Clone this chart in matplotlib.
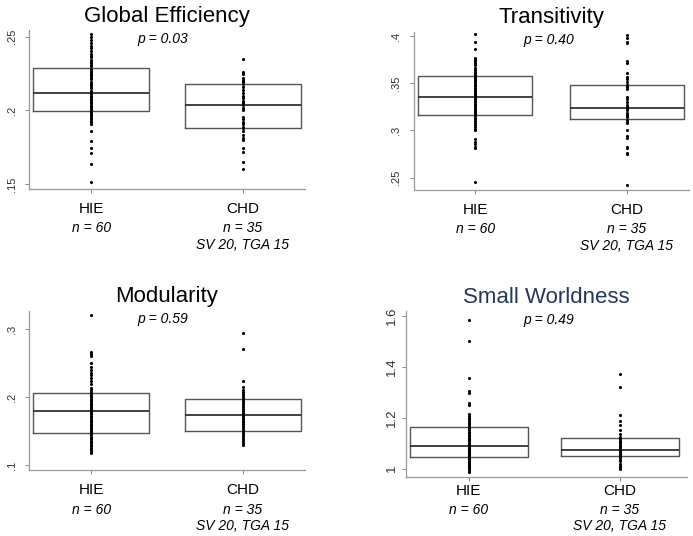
import matplotlib
matplotlib.use("Agg")
import matplotlib.pyplot as plt

plt.rcParams['font.family'] = ['Liberation Sans', 'DejaVu Sans']

groups = ["HIE", "CHD"]
group_n = ["n = 60", "n = 35"]
chd_detail = "SV 20, TGA 15"

titles = ["Global Efficiency", "Transitivity", "Modularity", "Small Worldness"]
p_values = ["p = 0.03", "p = 0.40", "p = 0.59", "p = 0.49"]

# box stats per panel: (q1, median, q3) for HIE and CHD
ge_box = [(0.1996, 0.2116, 0.229), (0.1883, 0.2037, 0.2177)]
tr_box = [(0.316, 0.3351, 0.3573), (0.3124, 0.3234, 0.3478)]
mod_box = [(0.1475, 0.1793, 0.2062), (0.1504, 0.1739, 0.1978)]
sw_box = [(1.0447, 1.090, 1.165), (1.0486, 1.072, 1.119)]

ge_hie = [0.252, 0.250, 0.248, 0.246, 0.244, 0.242, 0.240, 0.238, 0.237, 0.236,
          0.234, 0.233, 0.232, 0.231, 0.230, 0.228, 0.227, 0.226, 0.225, 0.224,
          0.223, 0.222, 0.221, 0.219, 0.218, 0.217, 0.216, 0.215, 0.213, 0.212,
          0.211, 0.210, 0.209, 0.208, 0.207, 0.206, 0.205, 0.204, 0.203, 0.2025,
          0.202, 0.201, 0.2005, 0.200, 0.1998, 0.199, 0.198, 0.197, 0.196, 0.195,
          0.194, 0.193, 0.192, 0.191, 0.186, 0.179, 0.1743, 0.1709, 0.1634, 0.1516]
ge_chd = [0.2347, 0.2263, 0.2255, 0.2245, 0.2222, 0.2206, 0.2200, 0.2191, 0.2177,
          0.2161, 0.2140, 0.2116, 0.2100, 0.2082, 0.2064, 0.2055, 0.2048, 0.2037,
          0.2018, 0.2000, 0.1957, 0.1940, 0.1923, 0.1915, 0.1906, 0.1889, 0.1878,
          0.1860, 0.1833, 0.1815, 0.1799, 0.1743, 0.1720, 0.1652, 0.1600]

tr_hie = [0.402, 0.394, 0.386, 0.377, 0.375, 0.373, 0.371, 0.369, 0.366, 0.364,
          0.362, 0.361, 0.360, 0.359, 0.358, 0.356, 0.355, 0.353, 0.352, 0.350,
          0.348, 0.347, 0.345, 0.343, 0.342, 0.340, 0.339, 0.338, 0.337, 0.336,
          0.334, 0.333, 0.331, 0.330, 0.328, 0.327, 0.325, 0.323, 0.322, 0.321,
          0.320, 0.319, 0.318, 0.317, 0.3165, 0.315, 0.313, 0.312, 0.310, 0.308,
          0.306, 0.304, 0.302, 0.300, 0.291, 0.288, 0.2855, 0.283, 0.281, 0.246]
tr_chd = [0.4011, 0.3982, 0.394, 0.3923, 0.3738, 0.371, 0.3605, 0.3569, 0.3541,
          0.3516, 0.3481, 0.3457, 0.3435, 0.3357, 0.3333, 0.3304, 0.3270, 0.3245,
          0.3230, 0.3216, 0.3188, 0.3163, 0.3150, 0.3139, 0.311, 0.3092, 0.3075,
          0.3004, 0.294, 0.2916, 0.2827, 0.281, 0.2764, 0.275, 0.2422]

mod_hie = [0.320, 0.266, 0.263, 0.260, 0.250, 0.244, 0.240, 0.236, 0.232, 0.228,
           0.224, 0.219, 0.214, 0.210, 0.207, 0.2055, 0.204, 0.203, 0.201, 0.200,
           0.198, 0.196, 0.194, 0.192, 0.190, 0.188, 0.186, 0.184, 0.182, 0.180,
           0.178, 0.176, 0.173, 0.170, 0.167, 0.165, 0.163, 0.161, 0.159, 0.157,
           0.155, 0.153, 0.151, 0.149, 0.148, 0.146, 0.144, 0.142, 0.140, 0.138,
           0.136, 0.134, 0.132, 0.130, 0.128, 0.126, 0.124, 0.122, 0.120, 0.118]
mod_chd = [0.294, 0.271, 0.224, 0.215, 0.211, 0.207, 0.204, 0.201, 0.199,
           0.197, 0.194, 0.191, 0.188, 0.186, 0.183, 0.180, 0.177, 0.175,
           0.173, 0.170, 0.168, 0.165, 0.163, 0.161, 0.158, 0.155, 0.152,
           0.150, 0.147, 0.144, 0.141, 0.138, 0.135, 0.132, 0.130]

sw_hie = [1.584, 1.502, 1.356, 1.306, 1.297, 1.258, 1.249, 1.213, 1.207, 1.200,
          1.194, 1.188, 1.180, 1.175, 1.168, 1.160, 1.155, 1.150, 1.145, 1.140,
          1.133, 1.127, 1.122, 1.118, 1.112, 1.107, 1.102, 1.098, 1.094, 1.091,
          1.088, 1.085, 1.082, 1.079, 1.076, 1.073, 1.070, 1.067, 1.064, 1.061,
          1.058, 1.055, 1.052, 1.049, 1.046, 1.043, 1.040, 1.037, 1.034, 1.031,
          1.028, 1.025, 1.022, 1.019, 1.016, 1.012, 1.008, 1.003, 0.995, 0.987]
sw_chd = [1.371, 1.319, 1.212, 1.186, 1.170, 1.153, 1.135, 1.125, 1.121,
          1.115, 1.110, 1.104, 1.099, 1.094, 1.088, 1.083, 1.078, 1.074,
          1.070, 1.067, 1.064, 1.061, 1.058, 1.056, 1.053, 1.051, 1.049,
          1.045, 1.040, 1.035, 1.028, 1.020, 1.012, 1.005, 1.000]

y_ticks = [[0.15, 0.2, 0.25], [0.25, 0.3, 0.35, 0.4], [0.1, 0.2, 0.3], [1.0, 1.2, 1.4, 1.6]]
y_ticklabels = [[".15", ".2", ".25"], [".25", ".3", ".35", ".4"], [".1", ".2", ".3"],
                ["1", "1.2", "1.4", "1.6"]]
y_lims = [(0.1466, 0.2545), (0.237, 0.4046), (0.0927, 0.3268), (0.966, 1.617)]

panels = [
    (ge_box, ge_hie, ge_chd),
    (tr_box, tr_hie, tr_chd),
    (mod_box, mod_hie, mod_chd),
    (sw_box, sw_hie, sw_chd),
]

fig = plt.figure(figsize=(6.93, 5.36), dpi=100)
positions = [
    [0.042, 0.647, 0.398, 0.297],
    [0.597, 0.6455, 0.397, 0.2955],
    [0.042, 0.1226, 0.398, 0.2977],
    [0.586, 0.1095, 0.406, 0.3097],
]
x_lims = [(0.592, 2.408), (0.594, 2.409), (0.592, 2.408), (0.586, 2.447)]
box_widths = [0.76, 0.75, 0.76, 0.78]
p_x = [0.484, 0.49, 0.484, 0.507]
title_colors = ["black", "black", "black", "#27355f"]
tick_sizes = [8, 8, 8, 9.5]
label_offsets = [(14, 28, 40), (14.5, 28, 40), (14.5, 28.5, 40), (9.6, 23.3, 35.3)]
tick_pads = [6, 6.5, 6, 3]

for i, (box, hie, chd) in enumerate(panels):
    ax = fig.add_axes(positions[i])
    stats = []
    for q1, med, q3 in box:
        stats.append(dict(q1=q1, med=med, q3=q3, whislo=q1, whishi=q3, fliers=[]))
    ax.bxp(stats, positions=[1, 2], widths=box_widths[i], showcaps=False,
           showfliers=False,
           boxprops=dict(color="#555555", linewidth=1.0),
           medianprops=dict(color="#222222", linewidth=1.2),
           whiskerprops=dict(linewidth=0))
    ax.scatter([1] * len(hie), hie, s=5, color="black", zorder=3, linewidths=0)
    ax.scatter([2] * len(chd), chd, s=5, color="black", zorder=3, linewidths=0)

    ax.set_xlim(*x_lims[i])
    ax.set_ylim(*y_lims[i])
    ax.set_yticks(y_ticks[i])
    ax.set_yticklabels(y_ticklabels[i], rotation=90, va="center", fontsize=tick_sizes[i],
                       color="#333333")
    ax.tick_params(axis="y", length=3, width=0.7, color="#888888", pad=tick_pads[i])
    ax.set_xticks([1, 2])
    ax.set_xticklabels(["", ""])
    ax.tick_params(axis="x", length=3, width=0.7, color="#888888")
    for side in ["top", "right"]:
        ax.spines[side].set_visible(False)
    for side in ["left", "bottom"]:
        ax.spines[side].set_color("#999999")
        ax.spines[side].set_linewidth(0.9)

    ax.set_title(titles[i], fontsize=16, color=title_colors[i], pad=6)
    ax.text(p_x[i], 0.945, p_values[i], transform=ax.transAxes, ha="center",
            va="center", fontsize=10, style="italic")

    o1, o2, o3 = label_offsets[i]
    for j, g in enumerate(groups):
        ax.annotate(g, xy=(j + 1, 0), xycoords=("data", "axes fraction"),
                    xytext=(0, -o1), textcoords="offset points",
                    ha="center", va="center", fontsize=11)
        ax.annotate(group_n[j], xy=(j + 1, 0), xycoords=("data", "axes fraction"),
                    xytext=(0, -o2), textcoords="offset points",
                    ha="center", va="center", fontsize=10, style="italic")
    ax.annotate(chd_detail, xy=(2, 0), xycoords=("data", "axes fraction"),
                xytext=(0, -o3), textcoords="offset points",
                ha="center", va="center", fontsize=10, style="italic")

fig.savefig("out.png", dpi=100)
